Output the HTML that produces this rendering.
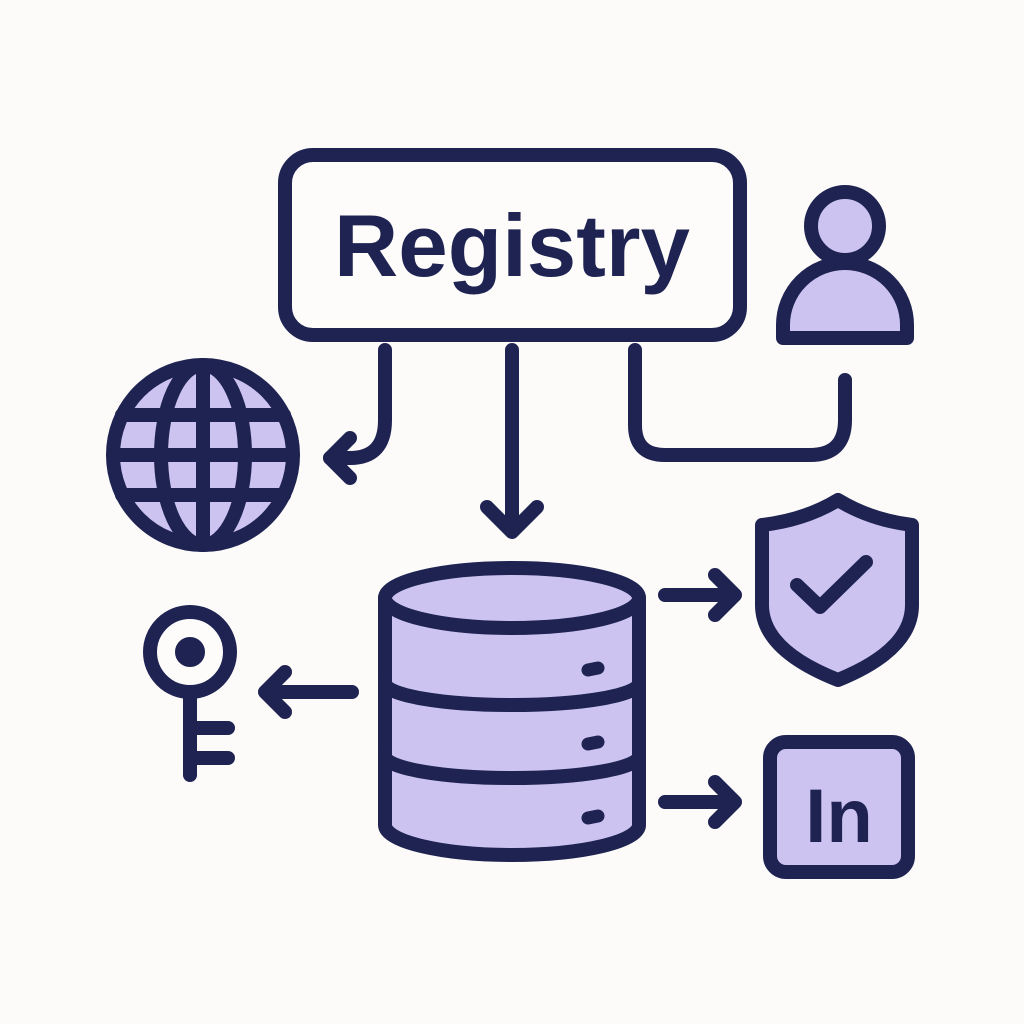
<!DOCTYPE html>
<html><head><style>html,body{margin:0;padding:0;background:#fcfbf9}svg{display:block}</style></head>
<body>
<svg width="1024" height="1024" viewBox="0 0 1024 1024" xmlns="http://www.w3.org/2000/svg">
<rect width="1024" height="1024" fill="#fcfbf9"/>
<g stroke="#1e2352" stroke-width="14" stroke-linecap="round" stroke-linejoin="round" fill="none">
<rect x="285" y="155" width="455" height="180" rx="28" fill="#fdfcfb"/>
<circle cx="845" cy="226" r="34" fill="#cdc3f0"/>
<path d="M783 338 L783 325 A62 62 0 0 1 907 325 L907 338 Z" fill="#cdc3f0"/>
<path d="M385 350 L385 420 Q385 458 350 458 L330 458"/>
<path d="M350 438 L330 458 L350 478"/>
<path d="M512 350 L512 530"/>
<path d="M487 507 L512 532 L537 507"/>
<path d="M635 350 L635 425 Q635 455 665 455 L810 455 Q845 455 845 420 L845 380"/>
<circle cx="203" cy="455" r="90" fill="#cdc3f0"/>
<ellipse cx="203" cy="455" rx="42" ry="90"/>
<path d="M203 365 L203 545 M122 415 L284 415 M113 455 L293 455 M122 495 L284 495"/>
<path d="M385 598 L385 825 A127 30 0 0 0 639 825 L639 598" fill="#cdc3f0"/>
<ellipse cx="512" cy="598" rx="127" ry="30" fill="#cdc3f0"/>
<path d="M385 683 A127 22 0 0 0 639 683 M385 756 A127 22 0 0 0 639 756"/>
<path d="M588 670 L598 668 M588 744 L598 742 M588 818 L598 816" stroke-width="13"/>
<path d="M352 692 L265 692 M285 672 L265 692 L285 712"/>
<path d="M665 595 L735 595 M715 575 L735 595 L715 615"/>
<path d="M665 802 L735 802 M715 782 L735 802 L715 822"/>
<circle cx="190" cy="652" r="40" fill="#fdfcfb"/>
<circle cx="190" cy="652" r="8" fill="#1e2352"/>
<path d="M190 692 L190 775 M190 728 L228 728 M190 758 L228 758"/>
<path d="M762 525 Q805 520 838 500 Q871 520 912 525 L912 605 Q912 650 838 680 Q762 650 762 605 Z" fill="#cdc3f0"/>
<path d="M797 585 L820 607 L866 562"/>
<rect x="770" y="742" width="138" height="130" rx="16" fill="#cdc3f0"/>
</g>
<text x="512" y="276" text-anchor="middle" font-family="Liberation Sans, sans-serif" font-weight="bold" font-size="88" fill="#1e2352" textLength="356" lengthAdjust="spacingAndGlyphs">Registry</text>
<text x="839" y="842" text-anchor="middle" font-family="Liberation Sans, sans-serif" font-weight="bold" font-size="76" fill="#1e2352">In</text>
</svg>
</body></html>
